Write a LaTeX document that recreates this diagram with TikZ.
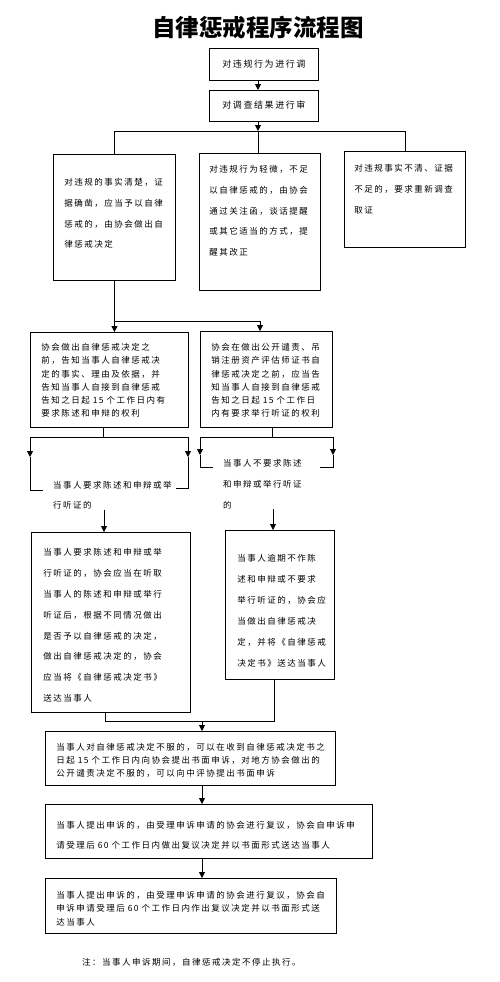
\documentclass[tikz,border=0pt]{standalone}
\usepackage{fontspec}
\newfontfamily\cjk[LetterSpace=17.6]{Noto Sans CJK SC}
\newfontfamily\cjktitle{Noto Sans CJK SC}
\usetikzlibrary{arrows.meta}

\begin{document}
\begin{tikzpicture}[
  x=1pt, y=-1pt,
  box/.style={draw=black, line width=0.9pt, anchor=north west, inner ysep=0pt, align=left},
  tight/.style={font=\cjk\fontsize{8.5}{13.3}\selectfont},
  loose/.style={font=\cjk\fontsize{8.5}{20.8}\selectfont},
  link/.style={draw=black, line width=0.8pt},
  arr/.style={link, -{Triangle[length=6pt, width=6pt]}}
]
  \useasboundingbox (0,0) rectangle (500,982);

  % Titel
  \node[font=\cjktitle\bfseries\fontsize{23.5}{28}\selectfont] (title) at (258,28) {自律惩戒程序流程图};

  % Untersuchung und Prüfung
  \node[box, align=center, font=\cjk\fontsize{9}{11}\selectfont, text width=89pt, inner xsep=10pt,
        text height=19pt, text depth=13pt] (inv) at (209,48) {对违规行为进行调};
  \node[box, align=center, font=\cjk\fontsize{9}{11}\selectfont, text width=89pt, inner xsep=10pt,
        text height=18.5pt, text depth=12.5pt] (rev) at (209,90) {对调查结果进行审};

  % drei Fälle
  \node[box, loose, text width=100pt, inner xsep=11pt, text height=31pt, text depth=95pt] (A) at (53,154)
    {对违规的事实清楚，证\\据确凿，应当予以自律\\惩戒的，由协会做出自\\律惩戒决定};
  \node[box, loose, text width=101pt, inner xsep=10pt, text height=19pt, text depth=118pt] (B) at (199,153)
    {对违规行为轻微，不足\\以自律惩戒的，由协会\\通过关注函，谈话提醒\\或其它适当的方式，提\\醒其改正};
  \node[box, loose, text width=101pt, inner xsep=10pt, text height=20pt, text depth=76pt] (C) at (344,151)
    {对违规事实不清、证据\\不足的，要求重新调查\\取证};

  % Anhörung
  \node[box, tight, text width=136pt, inner xsep=11pt, text height=18pt, text depth=77pt] (D) at (30,332)
    {协会做出自律惩戒决定之\\前，告知当事人自律惩戒决\\定的事实、理由及依据，并\\告知当事人自接到自律惩戒\\告知之日起 15 个工作日内有\\要求陈述和申辩的权利};
  \node[box, tight, text width=110pt, inner xsep=11pt, text height=19pt, text depth=77pt] (E) at (200,331)
    {协会在做出公开谴责、吊\\销注册资产评估师证书自\\律惩戒决定之前，应当告\\知当事人自接到自律惩戒\\告知之日起 15 个工作日\\内有要求举行听证的权利};

  \node[loose, anchor=base west, align=left, inner sep=0pt, text width=126pt] (askL) at (53,488)
    {当事人要求陈述和申辩或举\\行听证的};
  \node[font=\cjk\fontsize{8.5}{21}\selectfont, anchor=base west, align=left, inner sep=0pt, text width=95pt] (askR) at (223,466)
    {当事人不要求陈述\\和申辩或举行听证\\的};

  % Entscheidung
  \node[box, font=\cjk\fontsize{8.5}{20.9}\selectfont, text width=135pt, inner xsep=12pt, text height=23pt, text depth=157pt] (F) at (31,532)
    {当事人要求陈述和申辩或举\\行听证的，协会应当在听取\\当事人的陈述和申辩或举行\\听证后，根据不同情况做出\\是否予以自律惩戒的决定，\\做出自律惩戒决定的，协会\\应当将《自律惩戒决定书》\\送达当事人};
  \node[box, font=\cjk\fontsize{8.5}{21}\selectfont, text width=85pt, inner xsep=12pt, text height=31pt, text depth=118pt] (G) at (225,530)
    {当事人逾期不作陈\\述和申辩或不要求\\举行听证的，协会应\\当做出自律惩戒决\\定，并将《自律惩戒\\决定书》送达当事人};

  % Beschwerde
  \node[box, font=\cjk\fontsize{8.5}{13}\selectfont, text width=268pt, inner xsep=11pt, text height=19pt, text depth=35pt] (H) at (45,731)
    {当事人对自律惩戒决定不服的，可以在收到自律惩戒决定书之\\日起 15 个工作日内向协会提出书面申诉，对地方协会做出的\\公开谴责决定不服的，可以向中评协提出书面申诉};
  \node[box, font=\cjk\fontsize{8.5}{20}\selectfont, text width=305pt, inner xsep=11pt, text height=24pt, text depth=30pt] (I) at (45,804)
    {当事人提出申诉的，由受理申诉申请的协会进行复议，协会自申诉申\\请受理后 60 个工作日内做出复议决定并以书面形式送达当事人};
  \node[box, font=\cjk\fontsize{8.5}{13.5}\selectfont, text width=269pt, inner xsep=11pt, text height=20pt, text depth=35pt] (J) at (45,878)
    {当事人提出申诉的，由受理申诉申请的协会进行复议，协会自\\申诉申请受理后 60 个工作日内作出复议决定并以书面形式送\\达当事人};

  \node[tight, anchor=west, inner sep=0pt] (note) at (82,962) {注：当事人申诉期间，自律惩戒决定不停止执行。};

  % Hilfspunkte
  \coordinate (split) at (258,131);
  \coordinate (toE) at (260,321);
  \coordinate (forkD) at (103,437);
  \coordinate (dL1) at (30,457);  \coordinate (dL2) at (30,490);  \coordinate (dL3) at (43,490);
  \coordinate (dR1) at (188,457); \coordinate (dR2) at (188,488); \coordinate (dR3) at (176,488);
  \coordinate (forkE) at (272,437);
  \coordinate (eL1) at (200,455); \coordinate (eL2) at (200,467); \coordinate (eL3) at (213,467);
  \coordinate (eR1) at (333,455); \coordinate (eR2) at (333,467); \coordinate (eR3) at (320,467);
  \coordinate (xF) at (104,0);
  \coordinate (xG) at (273,0);
  \coordinate (jF) at (105,721);
  \coordinate (jG) at (274,721);
  \coordinate (join) at (202,721);

  % Verbindungen
  \draw[arr] (inv.south -| split) -- (rev.north -| split);
  \draw[arr] (rev.south -| split) -- (split);
  \draw[link] (A.north |- split) -- (C.north |- split);
  \draw[link] (A.north |- split) -- (A.north);
  \draw[link] (split) -- (split |- B.north);
  \draw[link] (C.north |- split) -- (C.north);

  \draw[arr] (A.south) -- (A.south |- D.north);
  \draw[arr] (A.south |- toE) -- (toE) -- (toE |- E.north);

  \draw[link] (D.south -| forkD) -- (forkD);
  \draw[link] (dL1 |- forkD) -- (dR1 |- forkD);
  \draw[arr] (dL1 |- forkD) -- (dL1);
  \draw[arr] (dR1 |- forkD) -- (dR1);
  \draw[link] (dL1) -- (dL2) -- (dL3);
  \draw[link] (dR1) -- (dR2) -- (dR3);

  \draw[link] (E.south -| forkE) -- (forkE);
  \draw[link] (eL1 |- forkE) -- (eR1 |- forkE);
  \draw[arr] (eL1 |- forkE) -- (eL1);
  \draw[arr] (eR1 |- forkE) -- (eR1);
  \draw[link] (eL1) -- (eL2) -- (eL3);
  \draw[link] (eR1) -- (eR2) -- (eR3);

  \draw[arr] (askL.south -| xF) -- (F.north -| xF);
  \draw[arr] (askR.south -| xG) -- (G.north -| xG);

  \draw[link] (F.south -| jF) -- (jF) -- (jG) -- (G.south -| jG);
  \draw[arr] (join) -- (H.north -| join);
  \draw[arr] (H.south -| join) -- (I.north -| join);
  \draw[arr] (I.south -| join) -- (J.north -| join);
\end{tikzpicture}
\end{document}
